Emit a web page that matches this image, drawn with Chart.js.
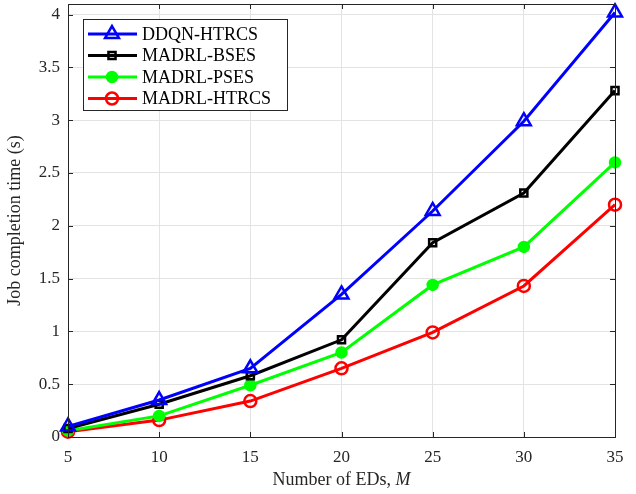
<!DOCTYPE html>
<html>
<head>
<meta charset="utf-8">
<script src="https://cdn.jsdelivr.net/npm/chart.js@4"></script>
<style>
  html, body { margin: 0; padding: 0; background: #fff; }
  #wrap { width: 636px; height: 494px; }
</style>
</head>
<body>
<div id="wrap"><canvas id="jctChart" width="636" height="494"></canvas></div>
<script>
// number of EDs on the x axis
const numEDs = [5, 10, 15, 20, 25, 30, 35];

// job completion time (s) per scheme
const ddqnHtrcs  = [0.10, 0.35, 0.65, 1.35, 2.14, 2.99, 4.02];
const madrlBses  = [0.08, 0.31, 0.58, 0.92, 1.84, 2.31, 3.28];
const madrlPses  = [0.06, 0.20, 0.49, 0.80, 1.44, 1.80, 2.60];
const madrlHtrcs = [0.05, 0.16, 0.34, 0.65, 0.99, 1.43, 2.20];

const xTicks = [5, 10, 15, 20, 25, 30, 35];
const yTicks = [0, 0.5, 1, 1.5, 2, 2.5, 3, 3.5, 4];

const serif = '"Liberation Serif", "Times New Roman", serif';

function toPoints(vals) {
  return vals.map((v, i) => ({ x: numEDs[i], y: v }));
}

const series = [
  { label: 'DDQN-HTRCS',  data: ddqnHtrcs,  color: '#0000ff', style: 'triangle', radius: 8, fill: false },
  { label: 'MADRL-BSES',  data: madrlBses,  color: '#000000', style: 'rect',     radius: 5, fill: false },
  { label: 'MADRL-PSES',  data: madrlPses,  color: '#00ff00', style: 'circle',   radius: 5, fill: true },
  { label: 'MADRL-HTRCS', data: madrlHtrcs, color: '#ff0000', style: 'circle',   radius: 6, fill: false }
];

// no extra room for half tick labels; the plot box is sized by hand
const noPad = () => ({ left: 0, top: 0, right: 0, bottom: 0 });

// box round the plot with inward tick marks on all four sides
const frame = {
  id: 'frame',
  afterDatasetsDraw(chart) {
    const { ctx, chartArea: a, scales } = chart;
    ctx.save();
    ctx.strokeStyle = '#262626';
    ctx.lineWidth = 1;
    ctx.strokeRect(a.left + 0.5, a.top + 0.5, a.right - a.left, a.bottom - a.top);
    const len = 5;
    ctx.beginPath();
    xTicks.forEach(t => {
      const x = Math.round(scales.x.getPixelForValue(t)) + 0.5;
      ctx.moveTo(x, a.bottom); ctx.lineTo(x, a.bottom - len);
      ctx.moveTo(x, a.top); ctx.lineTo(x, a.top + len);
    });
    yTicks.forEach(t => {
      const y = Math.round(scales.y.getPixelForValue(t)) + 0.5;
      ctx.moveTo(a.left, y); ctx.lineTo(a.left + len, y);
      ctx.moveTo(a.right, y); ctx.lineTo(a.right - len, y);
    });
    ctx.stroke();

    // x title with an italic symbol
    const part1 = 'Number of EDs, ';
    const part2 = 'M';
    ctx.fillStyle = '#262626';
    ctx.textBaseline = 'middle';
    ctx.font = '18px ' + serif;
    const w1 = ctx.measureText(part1).width;
    ctx.font = 'italic 18px ' + serif;
    const w2 = ctx.measureText(part2).width;
    const cx = (a.left + a.right) / 2;
    const tx = cx - (w1 + w2) / 2;
    const ty = a.bottom + 43;
    ctx.font = '18px ' + serif;
    ctx.textAlign = 'left';
    ctx.fillText(part1, tx, ty);
    ctx.font = 'italic 18px ' + serif;
    ctx.fillText(part2, tx + w1, ty);
    ctx.restore();
  }
};

// legend drawn inside the top-left corner of the plot
const insideLegend = {
  id: 'insideLegend',
  afterDraw(chart) {
    const { ctx, chartArea: a } = chart;
    const x0 = a.left + 15, y0 = a.top + 15, w = 204, h = 91;
    ctx.save();
    ctx.fillStyle = '#fff';
    ctx.fillRect(x0, y0, w, h);
    ctx.strokeStyle = '#262626';
    ctx.lineWidth = 1;
    ctx.strokeRect(x0 + 0.5, y0 + 0.5, w, h);
    ctx.font = '18px ' + serif;
    ctx.textBaseline = 'middle';
    chart.data.datasets.forEach((ds, i) => {
      const y = y0 + 15 + i * 21.5;
      ctx.strokeStyle = ds.borderColor;
      ctx.lineWidth = 3;
      ctx.beginPath();
      ctx.moveTo(x0 + 5, y); ctx.lineTo(x0 + 54, y);
      ctx.stroke();
      ctx.fillStyle = ds.pointBackgroundColor;
      ctx.strokeStyle = ds.borderColor;
      ctx.lineWidth = ds.pointBorderWidth;
      Chart.helpers.drawPoint(ctx, {
        pointStyle: ds.pointStyle,
        radius: ds.pointRadius,
        borderWidth: ds.pointBorderWidth,
        rotation: 0
      }, x0 + 29, y);
      ctx.fillStyle = '#000';
      ctx.fillText(ds.label, x0 + 59, y + 1);
    });
    ctx.restore();
  }
};

new Chart(document.getElementById('jctChart').getContext('2d'), {
  type: 'line',
  data: {
    datasets: series.map(s => ({
      label: s.label,
      data: toPoints(s.data),
      borderColor: s.color,
      backgroundColor: s.color,
      borderWidth: 3,
      pointStyle: s.style,
      pointRadius: s.radius,
      pointBorderWidth: 2.5,
      pointBackgroundColor: s.fill ? s.color : 'rgba(255,255,255,0)',
      pointBorderColor: s.color,
      tension: 0,
      clip: false
    }))
  },
  options: {
    responsive: false,
    animation: false,
    layout: { autoPadding: false, padding: { top: 4, right: 21, left: 0, bottom: 0 } },
    plugins: { legend: { display: false }, tooltip: { enabled: false } },
    scales: {
      x: {
        type: 'linear',
        min: 5,
        max: 35,
        afterBuildTicks: sc => { sc.ticks = xTicks.map(v => ({ value: v })); },
        afterFit: sc => { sc.height = 57; sc.getPadding = noPad; },
        grid: { color: '#e3e3e3', drawTicks: false, lineWidth: 1 },
        border: { display: false },
        ticks: { color: '#262626', font: { family: serif, size: 17 }, padding: 10, maxRotation: 0 },
        title: { display: false }
      },
      y: {
        type: 'linear',
        min: 0,
        max: 4.1,
        afterBuildTicks: sc => { sc.ticks = yTicks.map(v => ({ value: v })); },
        afterFit: sc => { sc.width = 68; sc.getPadding = noPad; },
        grid: { color: '#e3e3e3', drawTicks: false, lineWidth: 1 },
        border: { display: false },
        ticks: {
          color: '#262626',
          font: { family: serif, size: 17 },
          padding: 8,
          callback: v => String(v)
        },
        title: {
          display: true,
          text: 'Job completion time (s)',
          color: '#262626',
          font: { family: serif, size: 18 },
          padding: { bottom: 4 }
        }
      }
    }
  },
  plugins: [frame, insideLegend]
});
</script>
</body>
</html>
